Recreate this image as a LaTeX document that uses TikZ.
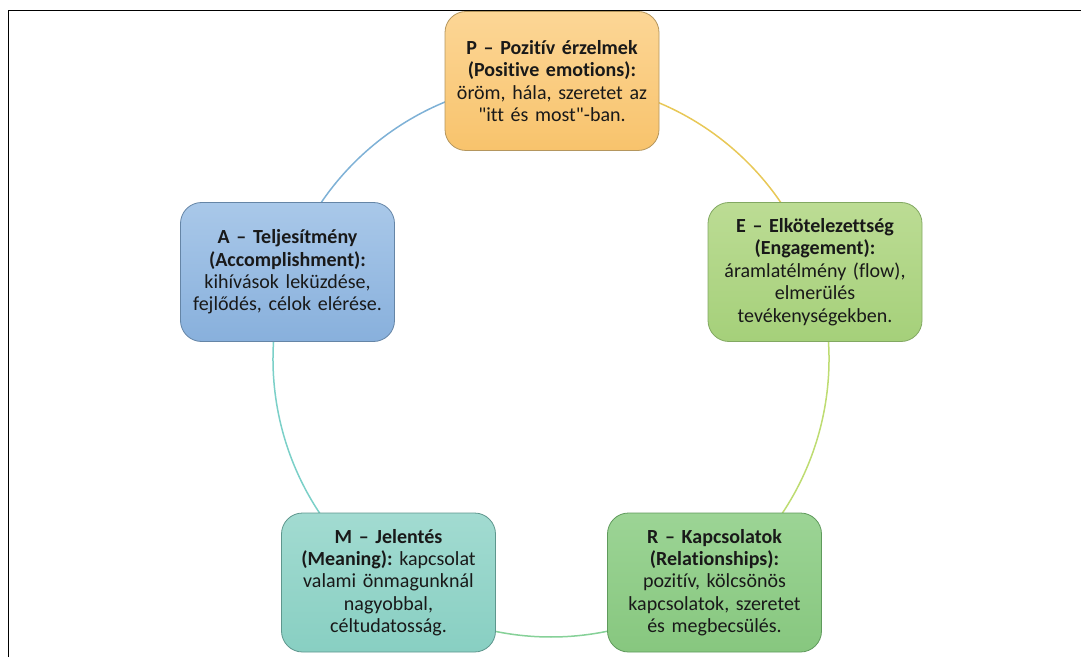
\documentclass[tikz,border=0pt]{standalone}
\usepackage{fontspec}
\setmainfont{Carlito}[Ligatures={TeXOff,NoCommon}, WordSpace=0.85]
\usetikzlibrary{calc,backgrounds}
\definecolor{pTop}{HTML}{FCD696}
\definecolor{pBot}{HTML}{F8C36C}
\definecolor{pLine}{HTML}{B4965E}
\definecolor{eTop}{HTML}{BCDC94}
\definecolor{eBot}{HTML}{A5D07A}
\definecolor{eLine}{HTML}{82A862}
\definecolor{rTop}{HTML}{9CD495}
\definecolor{rBot}{HTML}{87C77F}
\definecolor{rLine}{HTML}{5F9A5C}
\definecolor{mTop}{HTML}{A2DBD1}
\definecolor{mBot}{HTML}{88CFC2}
\definecolor{mLine}{HTML}{5E968D}
\definecolor{aTop}{HTML}{A9C8E9}
\definecolor{aBot}{HTML}{88B0DC}
\definecolor{aLine}{HTML}{6585A6}
\definecolor{arcPA}{HTML}{7EB1D6}
\definecolor{arcPE}{HTML}{E8C857}
\definecolor{arcER}{HTML}{BEDC72}
\definecolor{arcRM}{HTML}{86D198}
\definecolor{arcMA}{HTML}{7BD0C8}
\tikzset{
  box/.style={rectangle, rounded corners=21pt, minimum width=214pt, minimum height=139pt,
    inner sep=0pt, text width=206pt, align=center, line width=0.8pt,
    font=\fontsize{20}{22.4}\selectfont, text=black!90},
  ring/.style={line width=1.5pt}
}
\begin{document}
\begin{tikzpicture}[x=1pt,y=1pt]
\useasboundingbox (0,0) rectangle (1081,657);
\coordinate (c) at (551,298);
\draw[line width=1pt] (8,0) -- (8,646) -- (1081,646);
\node[box, draw=pLine, top color=pTop, bottom color=pBot] (p) at (552,576)
  {\textbf{P – Pozitív érzelmek}\\\textbf{(Positive emotions):}\\öröm, hála, szeretet az\\"itt és most"-ban.};
\node[box, draw=eLine, top color=eTop, bottom color=eBot] (e) at (815,385)
  {\textbf{E – Elkötelezettség}\\\textbf{(Engagement):}\\áramlatélmény (flow),\\elmerülés\\tevékenységekben.};
\node[box, draw=rLine, top color=rTop, bottom color=rBot] (r) at (714.5,74.5)
  {\textbf{R – Kapcsolatok}\\\textbf{(Relationships):}\\pozitív, kölcsönös\\kapcsolatok, szeretet\\és megbecsülés.};
\node[box, draw=mLine, top color=mTop, bottom color=mBot] (m) at (388.5,74.5)
  {\textbf{M – Jelentés}\\\textbf{(Meaning):}~kapcsolat\\valami önmagunknál\\nagyobbal,\\céltudatosság.};
\node[box, draw=aLine, top color=aTop, bottom color=aBot] (a) at (287.5,385)
  {\textbf{A – Teljesítmény}\\\textbf{(Accomplishment):}\\kihívások leküzdése,\\fejlődés, célok elérése.};
\begin{scope}[on background layer]
  \draw[ring, arcPA] ($(c)+(90:278)$) arc (90:162:278);
  \draw[ring, arcPE] ($(c)+(18:278)$) arc (18:90:278);
  \draw[ring, arcER] ($(c)+(-54:278)$) arc (-54:18:278);
  \draw[ring, arcRM] ($(c)+(-126:278)$) arc (-126:-54:278);
  \draw[ring, arcMA] ($(c)+(162:278)$) arc (162:234:278);
\end{scope}
\end{tikzpicture}
\end{document}
